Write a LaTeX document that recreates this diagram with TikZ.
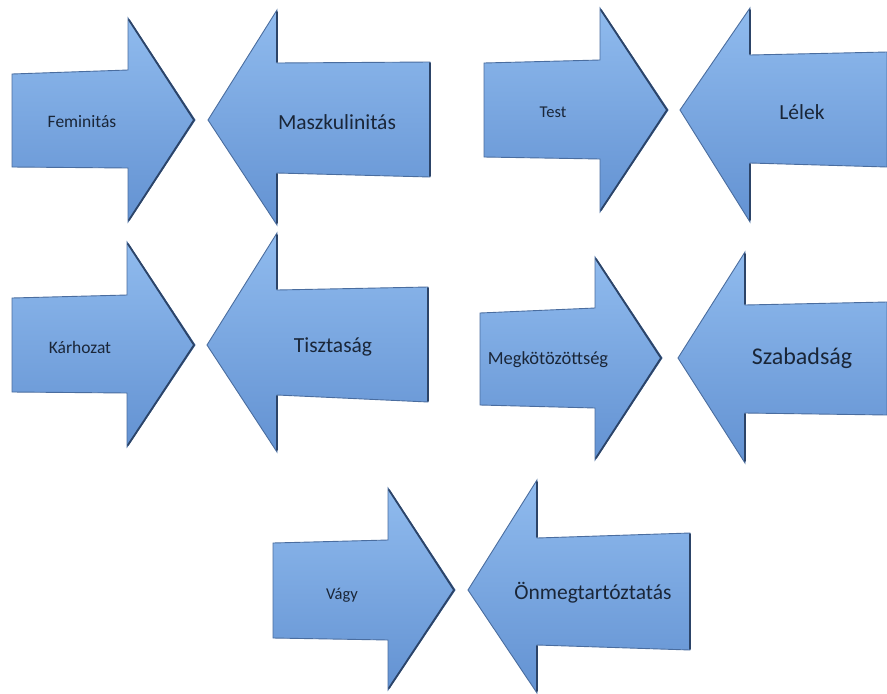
\documentclass[tikz,border=0pt]{standalone}
\usepackage{fontspec}
\setmainfont{Carlito}
\definecolor{lite}{HTML}{90BBEE}
\definecolor{dark}{HTML}{6392D2}
\definecolor{rim}{HTML}{4A6D9F}
\definecolor{edgec}{HTML}{2C4468}
\definecolor{txt}{HTML}{1A2638}
\tikzset{
  arrowshape/.style={top color=lite, bottom color=dark, draw=rim, line width=0.9pt, line join=miter},
  edgeline/.style={draw=edgec, line width=1.8pt, line cap=round},
  lbl/.style={text=txt, inner sep=0pt},
  smalltxt/.style={lbl, font=\fontsize{17.5}{20}\selectfont},
  bigtxt/.style={lbl, font=\fontsize{21.5}{24}\selectfont}
}
\begin{document}
\begin{tikzpicture}[x=1pt,y=-1pt]
\useasboundingbox (0,0) rectangle (887,694);
% pair 1
\shade[arrowshape] (12,74) -- (128,70) -- (128,18) -- (195,120) -- (128,222) -- (128,168) -- (12,167) -- cycle;
\draw[edgeline] (129,20) -- (194,120) -- (129,220);
\shade[arrowshape] (208,120) -- (277,10) -- (277,63) -- (430,62) -- (430,177) -- (277,173) -- (277,225) -- cycle;
\draw[edgeline] (277,12) -- (277,62);
\draw[edgeline] (277,174) -- (277,223);
\draw[edgeline] (430,63) -- (430,176);
\node[smalltxt] (feminitas) at (82,122) {Feminitás};
\node[bigtxt] (maszkulinitas) at (337,122) {Maszkulinitás};
% pair 2
\shade[arrowshape] (484,63) -- (600,60) -- (600,8) -- (668,110) -- (600,212) -- (600,159) -- (484,157) -- cycle;
\draw[edgeline] (601,10) -- (667,110) -- (601,210);
\shade[arrowshape] (680,110) -- (750,8) -- (750,55) -- (887,52) -- (887,167) -- (750,163) -- (750,222) -- cycle;
\draw[edgeline] (750,10) -- (750,54);
\draw[edgeline] (750,164) -- (750,220);
\node[smalltxt, font=\fontsize{16.5}{19}\selectfont] (test) at (553,112) {Test};
\node[bigtxt] (lelek) at (802,112) {Lélek};
% pair 3
\shade[arrowshape] (12,298) -- (127,295) -- (127,242) -- (195,345) -- (127,447) -- (127,393) -- (12,392) -- cycle;
\draw[edgeline] (128,244) -- (194,345) -- (128,445);
\shade[arrowshape] (207,345) -- (277,233) -- (277,290) -- (428,287) -- (428,402) -- (277,395) -- (277,452) -- cycle;
\draw[edgeline] (277,235) -- (277,289);
\draw[edgeline] (277,396) -- (277,450);
\draw[edgeline] (428,288) -- (428,401);
\node[smalltxt] (karhozat) at (80,347) {Kárhozat};
\node[bigtxt] (tisztasag) at (333,347) {Tisztaság};
% pair 4
\shade[arrowshape] (480,313) -- (595,308) -- (595,257) -- (662,358) -- (595,460) -- (595,408) -- (480,405) -- cycle;
\draw[edgeline] (596,259) -- (661,358) -- (596,458);
\shade[arrowshape] (678,358) -- (745,252) -- (745,305) -- (887,302) -- (887,415) -- (745,413) -- (745,463) -- cycle;
\draw[edgeline] (745,254) -- (745,304);
\draw[edgeline] (745,414) -- (745,461);
\node[smalltxt, font=\fontsize{18.5}{21}\selectfont] (megkotozottseg) at (548,360) {Megkötözöttség};
\node[bigtxt, font=\fontsize{24}{26}\selectfont] (szabadsag) at (802,358) {Szabadság};
% pair 5
\shade[arrowshape] (273,543) -- (388,540) -- (388,488) -- (455,590) -- (388,690) -- (388,640) -- (273,638) -- cycle;
\draw[edgeline] (389,490) -- (454,590) -- (389,688);
\shade[arrowshape] (468,590) -- (537,480) -- (537,538) -- (690,533) -- (690,650) -- (537,645) -- (537,693) -- cycle;
\draw[edgeline] (537,482) -- (537,537);
\draw[edgeline] (537,646) -- (537,691);
\draw[edgeline] (690,534) -- (690,649);
\node[smalltxt, font=\fontsize{16.5}{19}\selectfont] (vagy) at (342,595) {Vágy};
\node[bigtxt] (onmeg) at (593,593) {Önmegtartóztatás};
\end{tikzpicture}
\end{document}
